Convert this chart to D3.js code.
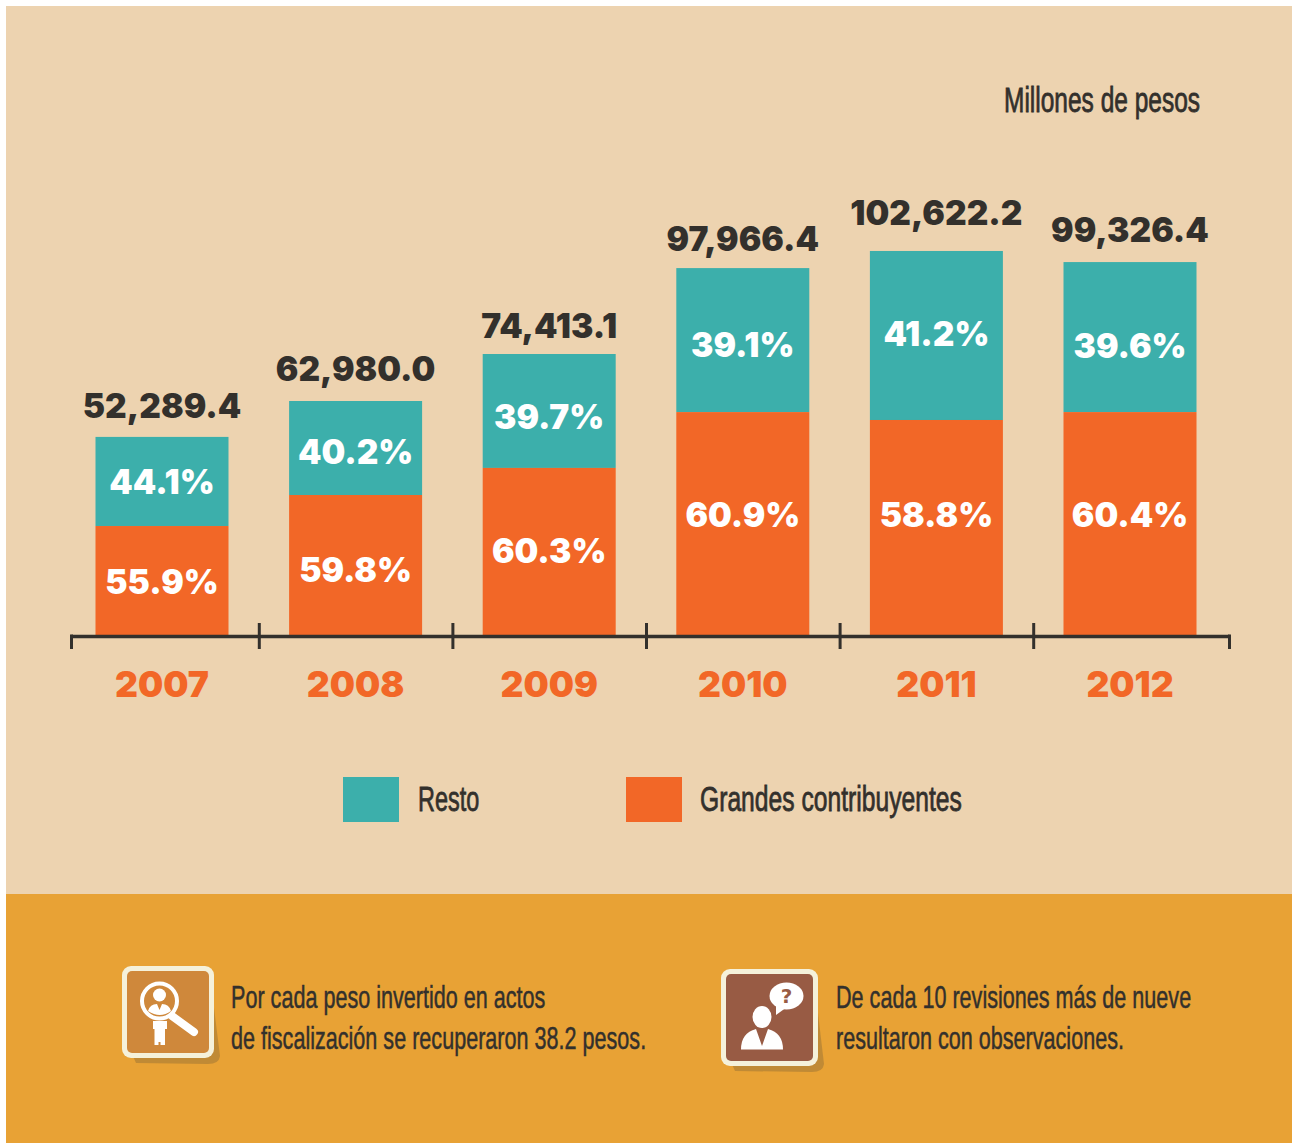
<!DOCTYPE html>
<html>
<head>
<meta charset="utf-8">
<script src="https://cdn.jsdelivr.net/npm/d3@7"></script>
<style>
    html, body { margin: 0; padding: 0; background: #fff; }
    svg { display: block; }
    .heavy { font-family: Inter, sans-serif; font-weight: 900; }
    .narrow { font-family: "Liberation Sans", sans-serif; fill: #33302c; stroke: #33302c; stroke-width: 0.5; }
    .narrow.strong { stroke-width: 0.8; }
</style>
</head>
<body>
<svg id="chart" width="1296" height="1143"></svg>
<script>
const years = ['2007', '2008', '2009', '2010', '2011', '2012'];
const totalLabels = ['52,289.4', '62,980.0', '74,413.1', '97,966.4', '102,622.2', '99,326.4'];
// segment sizes as drawn in the picture, millions of pesos
const grandes = [29250, 37500, 44700, 59550, 57450, 59550];
const resto = [23700, 25000, 30300, 38300, 44950, 39900];
const grandesLabels = ['55.9%', '59.8%', '60.3%', '60.9%', '58.8%', '60.4%'];
const restoLabels = ['44.1%', '40.2%', '39.7%', '39.1%', '41.2%', '39.6%'];
const legendNames = ['Resto', 'Grandes contribuyentes'];

const COLOR = {
    panel: '#edd3b0',
    band: '#e8a235',
    teal: '#3cafab',
    orange: '#f26727',
    dark: '#33302c',
}
const BAR_WIDTH = 133;
const BASE_Y = 636;

const svg = d3.select('#chart');

svg.append('rect').attr('x', 6).attr('y', 6).attr('width', 1286).attr('height', 888).attr('fill', COLOR.panel);
svg.append('rect').attr('x', 6).attr('y', 894).attr('width', 1286).attr('height', 249).attr('fill', COLOR.band);

let x = d3.scalePoint().domain(years).range([162, 1130]);
let y = d3.scaleLinear().domain([0, 100000]).range([BASE_Y, BASE_Y - 376]);

// bars
const bars = svg.append('g').selectAll('g')
    .data(years)
    .enter().append('g');

bars.append('rect')
    .attr('x', d => x(d) - BAR_WIDTH / 2)
    .attr('width', BAR_WIDTH)
    .attr('y', (d, i) => y(grandes[i] + resto[i]))
    .attr('height', (d, i) => y(grandes[i]) - y(grandes[i] + resto[i]))
    .attr('fill', COLOR.teal);

bars.append('rect')
    .attr('x', d => x(d) - BAR_WIDTH / 2)
    .attr('width', BAR_WIDTH)
    .attr('y', (d, i) => y(grandes[i]))
    .attr('height', (d, i) => y(0) - y(grandes[i]))
    .attr('fill', COLOR.orange);

// percent labels, hand placed in the original so they get a small nudge
const restoNudge = [1, 4, 6, 5, -1, 9];
const grandesNudge = [1, 4, -1, -9, -13, -9];

bars.append('text')
    .attr('class', 'heavy')
    .attr('x', d => x(d))
    .attr('y', (d, i) => (y(grandes[i]) + y(grandes[i] + resto[i])) / 2 + restoNudge[i] + 12)
    .attr('text-anchor', 'middle')
    .attr('font-size', 33.5)
    .attr('fill', '#fff')
    .text((d, i) => restoLabels[i]);

bars.append('text')
    .attr('class', 'heavy')
    .attr('x', d => x(d))
    .attr('y', (d, i) => (y(0) + y(grandes[i])) / 2 + grandesNudge[i] + 12)
    .attr('text-anchor', 'middle')
    .attr('font-size', 33.5)
    .attr('fill', '#fff')
    .text((d, i) => grandesLabels[i]);

const totalNudge = [0, -1, 3, 2, -7, -1];
bars.append('text')
    .attr('class', 'heavy')
    .attr('x', d => x(d))
    .attr('y', (d, i) => y(grandes[i] + resto[i]) - 19 + totalNudge[i])
    .attr('text-anchor', 'middle')
    .attr('font-size', 33.5)
    .attr('fill', COLOR.dark)
    .text((d, i) => totalLabels[i]);

// axis: ticks fall between the years, year labels are drawn apart
const step = x.step();
const tickPositions = [71].concat(years.slice(1).map(d => x(d) - step / 2), [1229]);
const tickScale = d3.scaleLinear().domain([71, 1229]).range([71, 1229]);

const axis = svg.append('g')
    .attr('transform', `translate(0,${BASE_Y})`)
    .call(d3.axisBottom(tickScale).tickValues(tickPositions).tickSize(13).tickSizeOuter(0).tickFormat(''));
axis.select('.domain').attr('stroke', COLOR.dark).attr('stroke-width', 3.5);
axis.selectAll('.tick line').attr('stroke', COLOR.dark).attr('stroke-width', 3).attr('y1', -13);
axis.selectAll('.tick').filter((d, i) => i === 0 || i === tickPositions.length - 1)
    .select('line').attr('y1', -1.5);

svg.append('g').selectAll('text')
    .data(years)
    .enter().append('text')
    .attr('class', 'heavy')
    .attr('x', d => x(d))
    .attr('y', 697)
    .attr('text-anchor', 'middle')
    .attr('font-size', 35.5)
    .attr('fill', COLOR.orange)
    .text(d => d);

// no condensed face installed, so squeeze the regular one
function narrowText(parent, tx, ty, size, squeeze, line) {
    return parent.append('text')
        .attr('class', 'narrow')
        .attr('transform', `translate(${tx},${ty}) scale(${squeeze},1)`)
        .attr('font-size', size)
        .text(line);
}

// unit
narrowText(svg, 1200, 112, 35, 0.7, 'Millones de pesos').attr('text-anchor', 'end').classed('strong', true);

// legend
const legend = svg.append('g');
legend.append('rect').attr('x', 343).attr('y', 777).attr('width', 56).attr('height', 45).attr('fill', COLOR.teal);
legend.append('rect').attr('x', 626).attr('y', 777).attr('width', 56).attr('height', 45).attr('fill', COLOR.orange);
narrowText(legend, 418, 811, 35, 0.67, legendNames[0]).classed('strong', true);
narrowText(legend, 700, 811, 35, 0.705, legendNames[1]).classed('strong', true);

// notes at the bottom
function note(lx, lines) {
    lines.forEach((line, i) => {
        narrowText(svg, lx, 1008 + i * 41, 32, 0.675, line);
    });
}
note(231, ['Por cada peso invertido en actos', 'de fiscalización se recuperaron 38.2 pesos.']);
note(836, ['De cada 10 revisiones más de nueve', 'resultaron con observaciones.']);

function iconBox(g, bx, by, size, fill) {
    g.append('path')
        .attr('d', `M${bx + 10},${by + size - 4} L${bx + size - 4},${by + 10} L${bx + size + 6},${by + size - 2} Q${bx + size + 5},${by + size + 6} ${bx + size - 6},${by + size + 6} L${bx + 14},${by + size + 5} Z`)
        .attr('fill', '#c08a35');
    g.append('rect').attr('x', bx).attr('y', by).attr('width', size).attr('height', size).attr('rx', 9).attr('fill', '#f5f1da');
    g.append('rect').attr('x', bx + 5).attr('y', by + 5).attr('width', size - 10).attr('height', size - 10).attr('rx', 5).attr('fill', fill);
}

// magnifier icon
const icon1 = svg.append('g');
iconBox(icon1, 122, 966, 92, '#cf883b');
icon1.append('line').attr('x1', 172).attr('y1', 1016).attr('x2', 194).attr('y2', 1032)
    .attr('stroke', '#fff').attr('stroke-width', 8).attr('stroke-linecap', 'round');
icon1.append('circle').attr('cx', 159.5).attr('cy', 1001).attr('r', 17.5)
    .attr('fill', '#cf883b').attr('stroke', '#fff').attr('stroke-width', 4);
icon1.append('circle').attr('cx', 159.5).attr('cy', 995).attr('r', 6.5).attr('fill', '#fff');
icon1.append('path')
    .attr('d', 'M148,1011 Q150,1004 157,1004 L159.5,1010 L162,1004 Q169,1004 171,1011 Q160,1019 148,1011 Z')
    .attr('fill', '#fff');
icon1.append('path')
    .attr('d', 'M153,1021 L167,1021 L167,1029 L165,1029 L165,1045 L160.5,1045 L160.5,1042 L158.5,1042 L158.5,1045 L154.5,1045 L154.5,1029 L153,1029 Z')
    .attr('fill', '#fff');

// person with question icon
const icon2 = svg.append('g');
iconBox(icon2, 721, 969, 97, '#985b44');
icon2.append('ellipse').attr('cx', 786.5).attr('cy', 996).attr('rx', 17).attr('ry', 13.5).attr('fill', '#fff');
icon2.append('path').attr('d', 'M776,1003 L776,1015 L787,1007 Z').attr('fill', '#fff');
icon2.append('text')
    .attr('x', 786.5).attr('y', 1003)
    .attr('text-anchor', 'middle')
    .attr('font-family', 'DejaVu Sans')
    .attr('font-weight', 700)
    .attr('font-size', 20)
    .attr('fill', '#985b44')
    .text('?');
icon2.append('ellipse').attr('cx', 762).attr('cy', 1017).attr('rx', 9.5).attr('ry', 11).attr('fill', '#fff');
icon2.append('path')
    .attr('d', 'M741,1049.5 Q741,1033 756,1029 L762,1046 L768,1029 Q783,1033 783,1049.5 Z')
    .attr('fill', '#fff');
</script>
</body>
</html>
